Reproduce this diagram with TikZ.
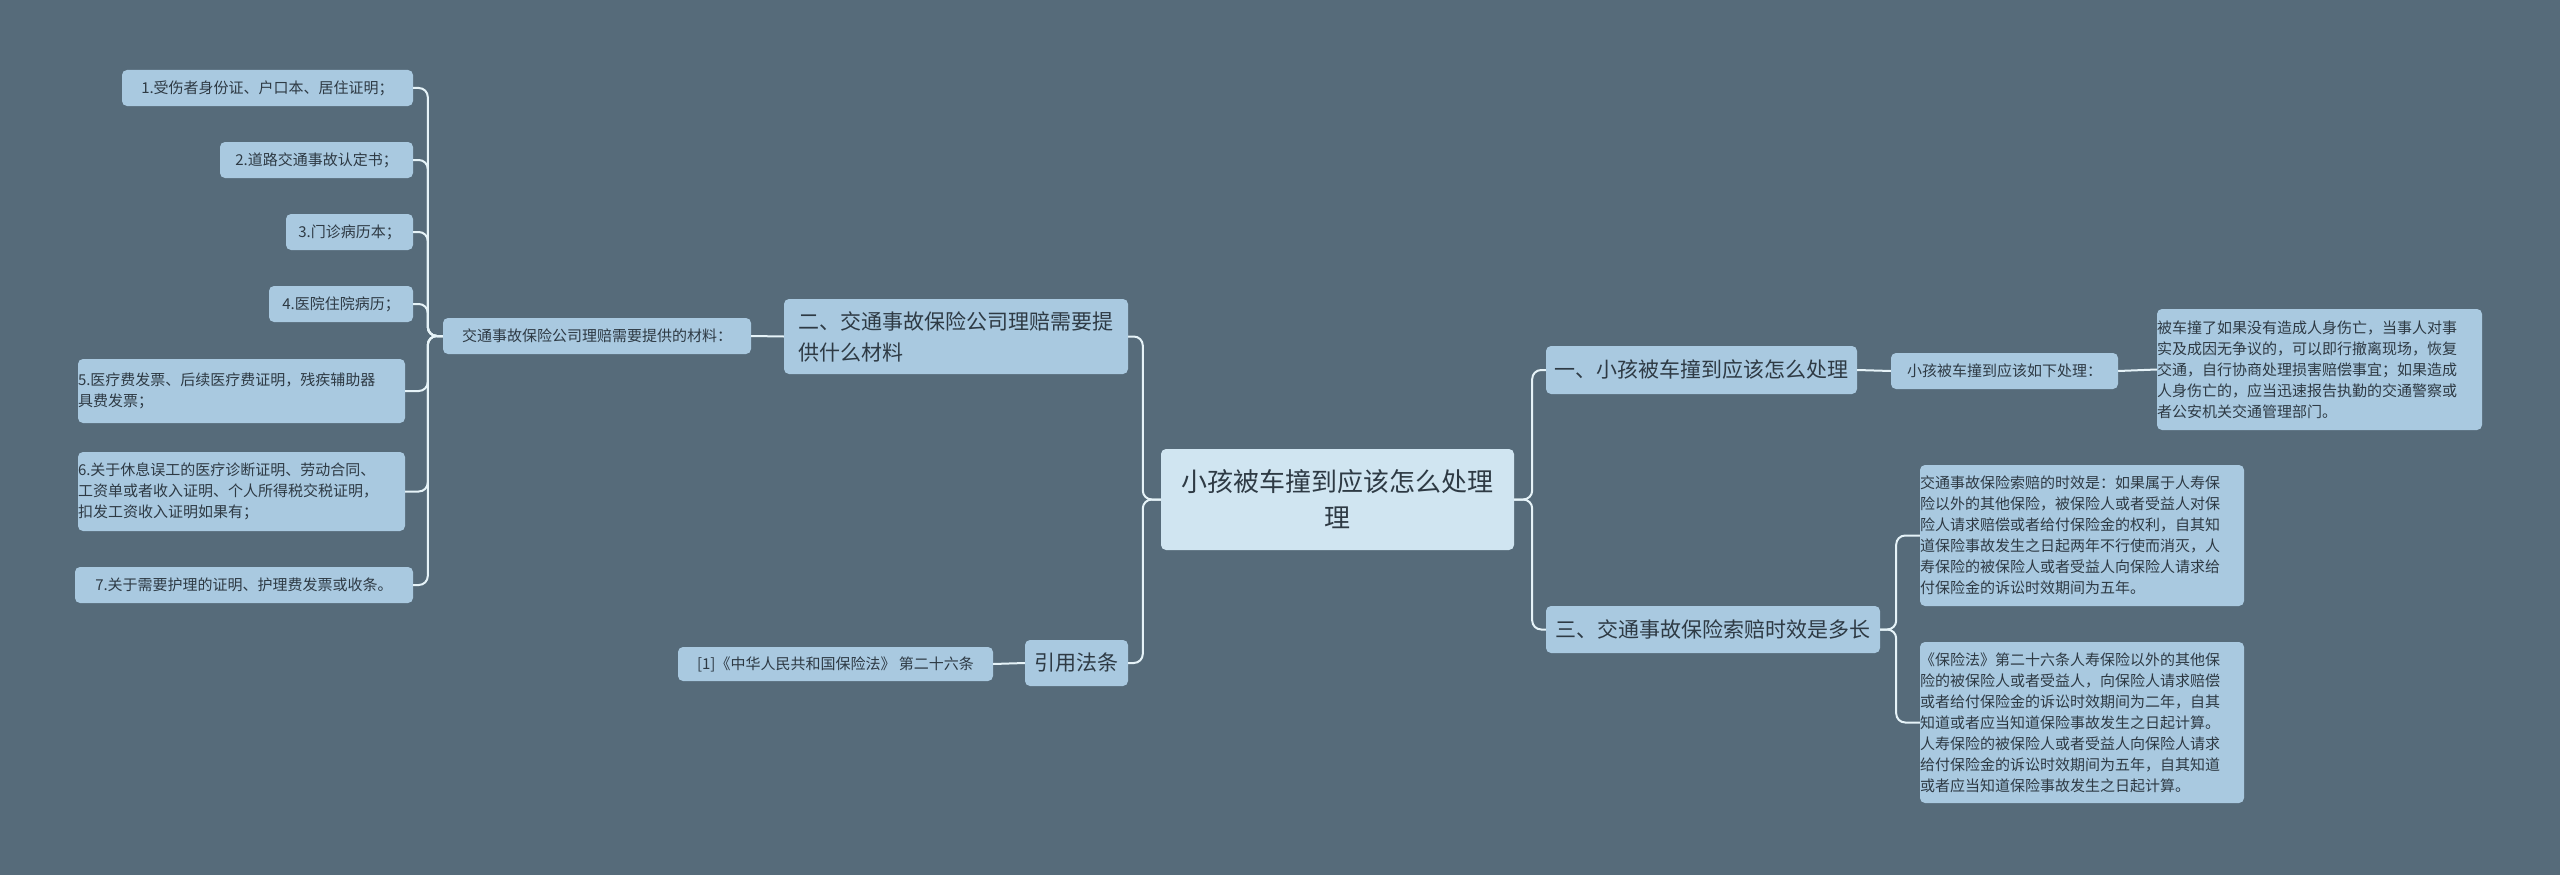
\documentclass[tikz,border=0pt]{standalone}
\usepackage{fontspec}
\setmainfont{Noto Sans CJK SC}
\definecolor{bg}{HTML}{566B7A}
\definecolor{nf}{HTML}{A9C9E0}
\definecolor{cf}{HTML}{D0E5F1}
\definecolor{ln}{HTML}{E6F3F8}
\definecolor{tx}{HTML}{2E3A44}
\tikzset{
 box/.style={fill=nf, rounded corners=5pt, text=tx, inner sep=0pt, font=\fontsize{15}{21}\selectfont},
 mbox/.style={box, align=left},
 conn/.style={draw=ln, line width=2pt, rounded corners=9pt},
}
\begin{document}
\begin{tikzpicture}[x=1pt,y=-1pt]
\fill[bg] (0,0) rectangle (2560,875);
\useasboundingbox (0,0) rectangle (2560,875);
\node[box, fill=cf, minimum width=353pt, minimum height=101pt, align=center, font=\fontsize{26}{36}\selectfont] (c) at (1337.5,499.5) {小孩被车撞到应该怎么处理\\理};
\node[box, minimum width=344pt, minimum height=75pt, align=left, font=\fontsize{21}{31}\selectfont] (b2) at (956,336.5) {二、交通事故保险公司理赔需要提\\供什么材料};
\node[box, minimum width=103pt, minimum height=46pt, font=\fontsize{21}{31}\selectfont] (law) at (1076.5,663) {引用法条};
\node[box, minimum width=311pt, minimum height=48pt, font=\fontsize{21}{31}\selectfont] (b1) at (1701.5,370) {一、小孩被车撞到应该怎么处理};
\node[box, minimum width=334pt, minimum height=47pt, font=\fontsize{21}{31}\selectfont] (b3) at (1713,629.5) {三、交通事故保险索赔时效是多长};
\node[box, minimum width=308pt, minimum height=36pt] (sub) at (597,336) {交通事故保险公司理赔需要提供的材料：};
\node[box, minimum width=291pt, minimum height=36pt] (i1) at (267.5,88) {1.受伤者身份证、户口本、居住证明；};
\node[box, minimum width=193pt, minimum height=36pt] (i2) at (316.5,160) {2.道路交通事故认定书；};
\node[box, minimum width=127pt, minimum height=36pt] (i3) at (349.5,232) {3.门诊病历本；};
\node[box, minimum width=144pt, minimum height=36pt] (i4) at (341,304) {4.医院住院病历；};
\node[mbox, minimum height=64pt, text width=327pt] (i5) at (241.5,391) {5.医疗费发票、后续医疗费证明，残疾辅助器\\具费发票；};
\node[mbox, minimum height=79pt, text width=327pt] (i6) at (241.5,491.5) {6.关于休息误工的医疗诊断证明、劳动合同、\\工资单或者收入证明、个人所得税交税证明，\\扣发工资收入证明如果有；};
\node[box, minimum width=338pt, minimum height=36pt] (i7) at (244,585) {7.关于需要护理的证明、护理费发票或收条。};
\node[box, minimum width=315pt, minimum height=34pt] (lr) at (835.5,664) {[1]《中华人民共和国保险法》 第二十六条};
\node[box, minimum width=227pt, minimum height=36pt] (rs) at (2004.5,371) {小孩被车撞到应该如下处理：};
\node[mbox, minimum height=121pt, text width=325pt] (d1) at (2319.5,369.5) {被车撞了如果没有造成人身伤亡，当事人对事\\实及成因无争议的，可以即行撤离现场，恢复\\交通，自行协商处理损害赔偿事宜；如果造成\\人身伤亡的，应当迅速报告执勤的交通警察或\\者公安机关交通管理部门。};
\node[mbox, minimum height=141pt, text width=324pt] (d2) at (2082,535.5) {交通事故保险索赔的时效是：如果属于人寿保\\险以外的其他保险，被保险人或者受益人对保\\险人请求赔偿或者给付保险金的权利，自其知\\道保险事故发生之日起两年不行使而消灭，人\\寿保险的被保险人或者受益人向保险人请求给\\付保险金的诉讼时效期间为五年。};
\node[mbox, minimum height=161pt, text width=324pt] (d3) at (2082,722.5) {《保险法》第二十六条人寿保险以外的其他保\\险的被保险人或者受益人，向保险人请求赔偿\\或者给付保险金的诉讼时效期间为二年，自其\\知道或者应当知道保险事故发生之日起计算。\\人寿保险的被保险人或者受益人向保险人请求\\给付保险金的诉讼时效期间为五年，自其知道\\或者应当知道保险事故发生之日起计算。};
% connectors
\foreach \n in {b2,law} \draw[conn] (c.west) -- ++(-18,0) |- (\n.east);
\foreach \n in {b1,b3} \draw[conn] (c.east) -- ++(18,0) |- (\n.west);
\draw[conn] (b2.west) -- (sub.east);
\foreach \n in {i1,i2,i3,i4,i5,i6,i7} \draw[conn] (sub.west) -- ++(-15,0) |- (\n.east);
\draw[conn] (law.west) -- (lr.east);
\draw[conn] (b1.east) -- (rs.west);
\draw[conn] (rs.east) -- (d1.west);
\foreach \n in {d2,d3} \draw[conn] (b3.east) -- ++(16,0) |- (\n.west);
\end{tikzpicture}
\end{document}
